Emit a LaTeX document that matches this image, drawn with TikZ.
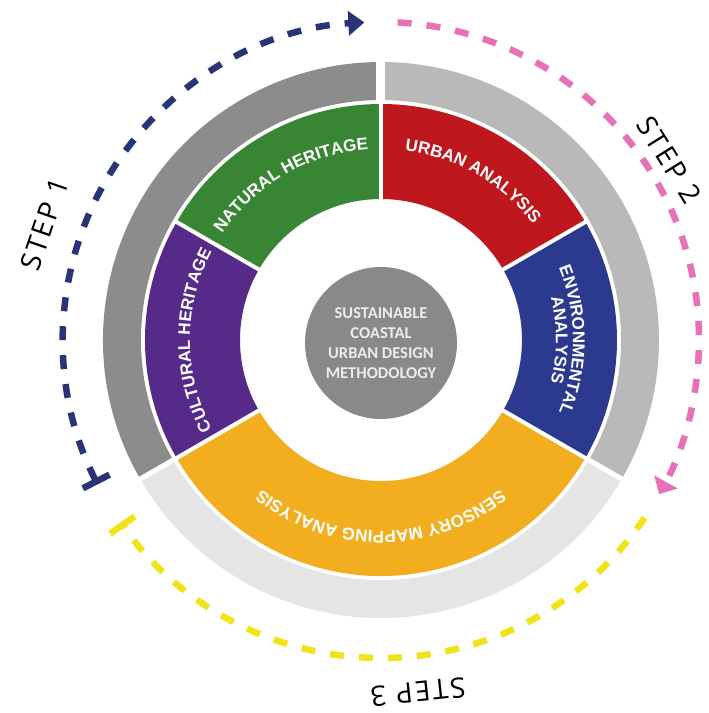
\documentclass[tikz,border=0pt]{standalone}
\usepackage{fontspec}
\setmainfont{Liberation Sans}
\newfontfamily\corefont{Carlito}
\newfontfamily\stepfont[LetterSpace=8]{Open Sans}
\usetikzlibrary{arrows.meta,decorations.text}

\definecolor{stepone}{RGB}{140,140,140}
\definecolor{steptwo}{RGB}{185,185,185}
\definecolor{stepthree}{RGB}{229,229,229}
\definecolor{natgreen}{RGB}{56,134,52}
\definecolor{urbred}{RGB}{190,24,30}
\definecolor{envblue}{RGB}{43,58,143}
\definecolor{culpurple}{RGB}{85,42,137}
\definecolor{sensyellow}{RGB}{242,174,30}
\definecolor{coregray}{RGB}{137,137,137}
\definecolor{coretext}{RGB}{236,236,236}
\definecolor{trailnavy}{RGB}{40,52,118}
\definecolor{trailpink}{RGB}{232,112,182}
\definecolor{trailyellow}{RGB}{240,228,24}

\newcommand\ringfont{\bfseries\fontsize{17}{17}\selectfont}

\begin{document}
\begin{tikzpicture}[
  x=1pt, y=1pt,
  seam/.style={white,line width=4pt},
  ringgap/.style={white,line width=#1},
  trail/.style={line width=6.5pt,dash pattern=on 14pt off 15pt},
  core/.style={circle,fill=coregray,minimum size=152pt,inner sep=0pt,
    text=coretext,align=center,font=\corefont\bfseries\fontsize{16.5}{20}\selectfont},
  steplabel/.style={inner sep=0pt,font=\stepfont\fontsize{28}{30}\selectfont},
  ringtext/.style={decorate,decoration={text along path,text align=center,
    text color=white,text={|\ringfont|#1}}},
  ]
  \useasboundingbox (-381,-373) rectangle (328,340);

  % outer ring: one band per step
  \foreach \from/\to/\col in {90/210/stepone,-30/90/steptwo,210/330/stepthree}
    \fill[\col] (\from:240) arc[start angle=\from,end angle=\to,radius=240pt]
      -- (\to:278) arc[start angle=\to,end angle=\from,radius=278pt] -- cycle;

  % inner ring: the five analyses
  \foreach \from/\to/\col in {90/150/natgreen,150/210/culpurple,210/330/sensyellow,
      -30/30/envblue,30/90/urbred}
    \fill[\col] (\from:141) arc[start angle=\from,end angle=\to,radius=141pt]
      -- (\to:236) arc[start angle=\to,end angle=\from,radius=236pt] -- cycle;

  \foreach \a in {30,90,150,210,330}
    \draw[seam] (\a:138) -- (\a:238);
  \draw[ringgap=9pt] (90:238) -- (90:281);
  \foreach \a in {210,330}
    \draw[ringgap=5pt] (\a:238) -- (\a:281);

  \node[core] (core) at (0,-3) {SUSTAINABLE\\COASTAL\\URBAN DESIGN\\METHODOLOGY};

  % labels on the ring
  \path[ringtext=NATURAL HERITAGE] (150:191) arc[start angle=150,end angle=90,radius=191pt];
  \path[ringtext=URBAN ANALYSIS] (90:191) arc[start angle=90,end angle=30,radius=191pt];
  \path[ringtext=ENVIRONMENTAL] (30:192) arc[start angle=30,end angle=-30,radius=192pt];
  \path[ringtext=ANALYSIS] (30:175) arc[start angle=30,end angle=-30,radius=175pt];
  \path[ringtext=SENSORY MAPPING ANALYSIS] (330:191) arc[start angle=330,end angle=210,radius=191pt];
  \path[ringtext=CULTURAL HERITAGE] (210:191) arc[start angle=210,end angle=150,radius=191pt];

  % dashed step arrows
  \draw[trail,trailnavy,{Bar[width=30pt]}-{Triangle[width=24pt,length=16pt]}]
    (207:318) arc[start angle=207,end angle=93,radius=318pt];
  \draw[trail,trailpink,-{Triangle[width=26pt,length=14pt]}]
    (87:318) arc[start angle=87,end angle=-29,radius=318pt];
  \draw[trail,trailyellow,-{Bar[width=30pt]}]
    (-34:318) arc[start angle=-34,end angle=-145,radius=318pt];

  \node[steplabel,rotate=71] (step1) at (161:356) {STEP 1};
  \node[steplabel,rotate=-58] (step2) at (32:340) {STEP 2};
  \node[steplabel,rotate=186] (step3) at (-84:354) {STEP 3};
\end{tikzpicture}
\end{document}
